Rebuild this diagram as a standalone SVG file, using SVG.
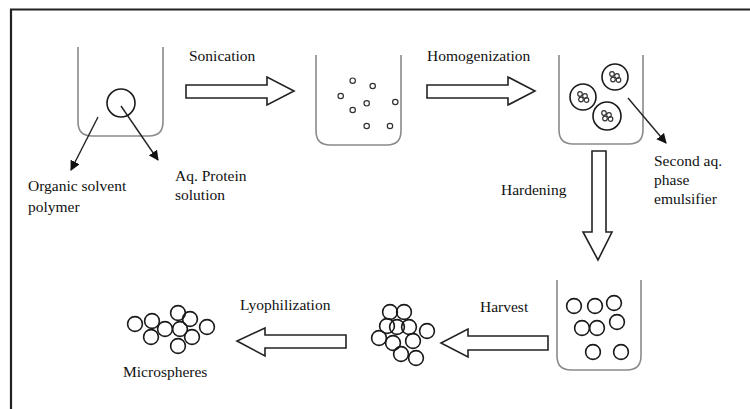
<svg xmlns="http://www.w3.org/2000/svg" width="750" height="409" viewBox="0 0 750 409">
<defs>
<style>
.t{font-family:"Liberation Serif","Times New Roman",serif;font-size:15.5px;fill:#111}
.bk{fill:none;stroke:#8a8a8a;stroke-width:1.6}
.ba{fill:#fff;stroke:#222;stroke-width:1.6;stroke-linejoin:miter}
.c{fill:none;stroke:#1a1a1a;stroke-width:1.6}
.d{fill:none;stroke:#333;stroke-width:1.2}
.ln{stroke:#222;stroke-width:1.4;fill:none}
</style>
<marker id="ah" viewBox="0 0 10 10" refX="9" refY="5" markerWidth="10" markerHeight="10" orient="auto" markerUnits="userSpaceOnUse"><path d="M0,0 L10,5 L0,10 z" fill="#111"/></marker>
<g id="sm"><circle class="d" cx="-3" cy="-3" r="2.3"/><circle class="d" cx="2" cy="-1" r="2.3"/><circle class="d" cx="-2" cy="2.5" r="2.3"/><circle class="d" cx="3.5" cy="3" r="2.3"/></g>
<circle id="big" class="c" r="7.4"/>
</defs>
<rect width="750" height="409" fill="#fff"/>
<path d="M11,409 V9.5 H750" fill="none" stroke="#222" stroke-width="2.2"/>

<g id="beaker1">
<path class="bk" d="M78,47 V122 Q78,136 92,136 H149 Q163,136 163,122 V47"/>
<circle class="c" cx="121" cy="103" r="14"/>
</g>
<g id="label-organic">
<text class="t" x="28" y="191">Organic solvent</text>
<text class="t" x="28" y="212">polymer</text>
</g>
<g id="label-aq">
<text class="t" x="175" y="181">Aq. Protein</text>
<text class="t" x="175" y="200">solution</text>
</g>

<g id="beaker2">
<path class="bk" d="M316,55 V131 Q316,145 330,145 H387 Q401,145 401,131 V55"/>
<circle class="d" cx="352.7" cy="80.7" r="2.7"/>
<circle class="d" cx="372.7" cy="86" r="2.7"/>
<circle class="d" cx="340.7" cy="96" r="2.7"/>
<circle class="d" cx="366.7" cy="103.3" r="2.7"/>
<circle class="d" cx="395.3" cy="102" r="2.7"/>
<circle class="d" cx="352.7" cy="110" r="2.7"/>
<circle class="d" cx="366.7" cy="126" r="2.7"/>
<circle class="d" cx="390" cy="126" r="2.7"/>
</g>

<g id="beaker3">
<path class="bk" d="M559,55 V130 Q559,144 573,144 H629 Q643,144 643,130 V55"/>
<circle class="c" cx="615" cy="77" r="13"/>
<circle class="c" cx="583" cy="97" r="13"/>
<circle class="c" cx="607" cy="116" r="14"/>
<use href="#sm" x="615" y="77"/>
<use href="#sm" x="583" y="97"/>
<use href="#sm" x="607" y="116"/>
</g>
<g id="label-second">
<text class="t" x="654" y="166">Second aq.</text>
<text class="t" x="654" y="185">phase</text>
<text class="t" x="654" y="204">emulsifier</text>
</g>

<g id="beaker4">
<path class="bk" d="M557,280 V356 Q557,370 571,370 H627 Q641,370 641,356 V280"/>
<use href="#big" x="574" y="306"/>
<use href="#big" x="595" y="306"/>
<use href="#big" x="614" y="303"/>
<use href="#big" x="582" y="328"/>
<use href="#big" x="597" y="328"/>
<use href="#big" x="617" y="322"/>
<use href="#big" x="593" y="352"/>
<use href="#big" x="621" y="352"/>
</g>

<g id="cluster-harvest">
<use href="#big" x="390" y="312"/>
<use href="#big" x="404" y="312"/>
<use href="#big" x="387" y="326"/>
<use href="#big" x="397" y="327"/>
<use href="#big" x="409" y="327"/>
<use href="#big" x="427" y="331"/>
<use href="#big" x="379" y="338"/>
<use href="#big" x="393" y="343"/>
<use href="#big" x="413" y="341"/>
<use href="#big" x="401" y="354"/>
<use href="#big" x="416" y="358"/>
</g>

<g id="microspheres">
<use href="#big" x="135" y="324"/>
<use href="#big" x="152" y="321"/>
<use href="#big" x="165" y="329"/>
<use href="#big" x="151" y="337"/>
<use href="#big" x="178" y="313"/>
<use href="#big" x="190" y="319"/>
<use href="#big" x="207" y="327"/>
<use href="#big" x="180" y="329"/>
<use href="#big" x="192" y="337"/>
<use href="#big" x="178" y="346"/>
<text class="t" x="123" y="377">Microspheres</text>
</g>

<g id="connectors">
<line class="ln" x1="98" y1="117" x2="71" y2="170" marker-end="url(#ah)"/>
<line class="ln" x1="121" y1="106" x2="158" y2="160" marker-end="url(#ah)"/>
<line class="ln" x1="628" y1="98" x2="666" y2="143" marker-end="url(#ah)"/>
<path class="ba" d="M186,85 H267 V77 L294,91 L267,105 V98 H186 Z"/>
<path class="ba" d="M427,85 H508 V77 L535,91 L508,105 V98 H427 Z"/>
<path class="ba" d="M592,151 V232 H583 L598,260 L612,232 H606 V151 Z"/>
<path class="ba" d="M548,336 H468 V329 L441,343 L468,357 V350 H548 Z"/>
<path class="ba" d="M346,335 H265 V328 L237,341 L265,356 V348 H346 Z"/>
<text class="t" x="189" y="61">Sonication</text>
<text class="t" x="427" y="61">Homogenization</text>
<text class="t" x="501" y="195">Hardening</text>
<text class="t" x="480" y="312">Harvest</text>
<text class="t" x="240" y="310">Lyophilization</text>
</g>
</svg>
